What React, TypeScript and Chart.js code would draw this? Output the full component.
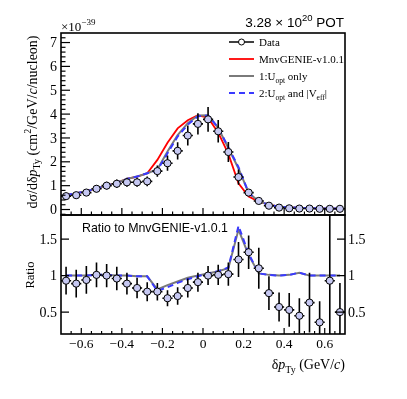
import React, { useEffect, useRef } from 'react';
import { Chart, registerables } from 'chart.js';

Chart.register(...registerables);

// ---------- data ----------
const binCenters = [-0.675, -0.625, -0.575, -0.525, -0.475, -0.425, -0.375, -0.325, -0.275, -0.225, -0.175, -0.125, -0.075, -0.025, 0.025, 0.075, 0.125, 0.175, 0.225, 0.275, 0.325, 0.375, 0.425, 0.475, 0.525, 0.575, 0.625, 0.675];
const binHalfWidth = 0.025;

// cross section (units of 1e-39 cm^2/GeV/c/nucleon)
const dataXS = [0.56, 0.60, 0.71, 0.87, 1.00, 1.08, 1.14, 1.14, 1.18, 1.61, 1.94, 2.46, 3.10, 3.59, 3.78, 3.28, 2.41, 1.36, 0.71, 0.36, 0.16, 0.08, 0.05, 0.04, 0.04, 0.03, 0.03, 0.03];
const dataXSErr = [0.11, 0.12, 0.14, 0.15, 0.16, 0.18, 0.19, 0.19, 0.20, 0.24, 0.32, 0.36, 0.42, 0.45, 0.52, 0.47, 0.42, 0.32, 0.15, 0.08, 0.05, 0.03, 0.03, 0.02, 0.02, 0.02, 0.02, 0.02];
const mnvGenieXS = [0.60, 0.68, 0.77, 0.87, 1.00, 1.12, 1.28, 1.38, 1.52, 2.08, 2.80, 3.40, 3.74, 3.95, 3.85, 3.22, 2.33, 1.10, 0.54, 0.33, 0.20, 0.12, 0.09, 0.07, 0.06, 0.05, 0.04, 0.04];
const uoptXS = [0.60, 0.68, 0.77, 0.87, 1.00, 1.12, 1.28, 1.38, 1.52, 1.68, 2.43, 3.12, 3.62, 3.94, 3.95, 3.42, 2.58, 1.72, 0.70, 0.34, 0.20, 0.12, 0.09, 0.07, 0.06, 0.05, 0.04, 0.04];
const uoptVeffXS = [0.60, 0.68, 0.77, 0.87, 1.00, 1.12, 1.28, 1.38, 1.52, 1.64, 2.36, 3.06, 3.56, 3.91, 3.94, 3.44, 2.60, 1.78, 0.70, 0.34, 0.20, 0.12, 0.09, 0.07, 0.06, 0.05, 0.04, 0.04];

// ratio to MnvGENIE-v1.0.1
const dataRatio = [0.93, 0.89, 0.94, 1.01, 1.00, 0.96, 0.89, 0.83, 0.78, 0.78, 0.69, 0.72, 0.83, 0.91, 1.00, 1.01, 1.02, 1.22, 1.32, 1.10, 0.76, 0.57, 0.53, 0.45, 0.63, 0.36, 0.93, 0.50];
const dataRatioErr = [0.19, 0.19, 0.19, 0.17, 0.16, 0.16, 0.15, 0.14, 0.13, 0.12, 0.11, 0.12, 0.13, 0.13, 0.13, 0.14, 0.16, 0.24, 0.23, 0.28, 0.23, 0.20, 0.23, 0.24, 0.41, 0.29, 1.00, 0.40];
const uoptRatio = [1.00, 1.00, 1.00, 1.01, 1.01, 1.00, 1.00, 0.99, 0.99, 0.81, 0.87, 0.92, 0.97, 1.00, 1.03, 1.06, 1.10, 1.63, 1.28, 1.03, 1.01, 1.00, 1.01, 1.04, 1.00, 1.00, 1.00, 1.00];
const uoptVeffRatio = [1.00, 1.00, 1.00, 1.01, 1.01, 1.00, 1.00, 0.99, 0.99, 0.79, 0.84, 0.90, 0.95, 0.99, 1.03, 1.06, 1.11, 1.68, 1.30, 1.03, 1.01, 1.00, 1.01, 1.04, 1.00, 1.00, 1.00, 1.00];

// ticks
const xTickValues = [-0.6, -0.4, -0.2, 0, 0.2, 0.4, 0.6];
const xTickLabels = ['−0.6', '−0.4', '−0.2', '0', '0.2', '0.4', '0.6'];
const xsTickValues = [0, 1, 2, 3, 4, 5, 6, 7];
const xsTickLabels = ['0', '1', '2', '3', '4', '5', '6', '7'];
const ratioTickValues = [0.5, 1, 1.5];
const ratioTickLabels = ['0.5', '1', '1.5'];

// ---------- style ----------
const W = 407;
const H = 399;
const SERIF = '"Liberation Serif", "DejaVu Serif", serif';
const SANS = '"Liberation Sans", Arial, sans-serif';
const RED = '#ff0000';
const GRAY = '#7a7a7a';
const BLUE = '#3a3aff';
const MARKER = '#c6c8f2';
const FRAME = { left: 61, right: 345 };
const UPPER = { top: 33, bottom: 215 };
const LOWER = { top: 215, bottom: 334 };

type Part = { t: string; size: number; italic?: boolean; dy?: number; family?: string };
const fontOf = (p: Part) => `${p.italic ? 'italic ' : ''}${p.size}px ${p.family ?? SERIF}`;

function drawRich(ctx: CanvasRenderingContext2D, parts: Part[], x: number, y: number, align: 'left' | 'center' | 'right') {
  let w = 0;
  for (const p of parts) {
    ctx.font = fontOf(p);
    w += ctx.measureText(p.t).width;
  }
  let cx = align === 'left' ? x : align === 'center' ? x - w / 2 : x - w;
  ctx.textAlign = 'left';
  ctx.textBaseline = 'alphabetic';
  for (const p of parts) {
    ctx.font = fontOf(p);
    ctx.fillText(p.t, cx, y + (p.dy ?? 0));
    cx += ctx.measureText(p.t).width;
  }
}

function drawErrorBars(chart: any, values: number[], errs: number[]) {
  const { ctx, chartArea: a, scales } = chart;
  const x = scales.x;
  const y = scales.y;
  ctx.save();
  ctx.beginPath();
  ctx.rect(a.left, a.top, a.right - a.left, a.bottom - a.top);
  ctx.clip();
  ctx.strokeStyle = '#000';
  ctx.lineWidth = 1.6;
  binCenters.forEach((c, i) => {
    const px = x.getPixelForValue(c);
    const py = y.getPixelForValue(values[i]);
    const x0 = x.getPixelForValue(c - binHalfWidth);
    const x1 = x.getPixelForValue(c + binHalfWidth);
    const y0 = y.getPixelForValue(values[i] - errs[i]);
    const y1 = y.getPixelForValue(values[i] + errs[i]);
    ctx.beginPath();
    ctx.moveTo(x0, py);
    ctx.lineTo(x1, py);
    ctx.moveTo(px, y0);
    ctx.lineTo(px, y1);
    ctx.stroke();
  });
  ctx.restore();
}

function drawXTicks(chart: any, majorLen: number, minorLen: number) {
  const { ctx, chartArea: a, scales } = chart;
  ctx.strokeStyle = '#000';
  ctx.lineWidth = 1.2;
  for (let i = -13; i <= 13; i++) {
    const v = i * 0.05;
    const px = scales.x.getPixelForValue(v);
    const len = i % 4 === 0 ? majorLen : minorLen;
    ctx.beginPath();
    ctx.moveTo(px, a.bottom);
    ctx.lineTo(px, a.bottom - len);
    ctx.stroke();
  }
}

function makeOptions(area: { top: number; bottom: number }, yMin: number, yMax: number) {
  return {
    responsive: false,
    animation: false as const,
    devicePixelRatio: 1,
    events: [] as any[],
    layout: { padding: { left: FRAME.left, right: W - FRAME.right, top: area.top, bottom: H - area.bottom } },
    scales: {
      x: { type: 'linear' as const, min: -0.7, max: 0.7, display: false },
      y: { type: 'linear' as const, min: yMin, max: yMax, display: false },
    },
    plugins: { legend: { display: false }, tooltip: { enabled: false } },
  };
}

const pts = (ys: number[]) => binCenters.map((x, i) => ({ x, y: ys[i] }));

export default function App() {
  const upperRef = useRef<HTMLCanvasElement>(null);
  const lowerRef = useRef<HTMLCanvasElement>(null);

  useEffect(() => {
    const upperPlugin = {
      id: 'upperDecor',
      beforeDatasetDraw(chart: any, args: any) {
        if (args.index === 0) drawErrorBars(chart, dataXS, dataXSErr);
      },
      afterDraw(chart: any) {
        const { ctx, chartArea: a, scales } = chart;
        ctx.save();
        // ticks
        drawXTicks(chart, 7, 3.5);
        ctx.lineWidth = 1.2;
        for (let i = -1; i <= 37; i++) {
          const v = i * 0.2;
          const py = scales.y.getPixelForValue(v);
          if (py < a.top + 0.5 || py > a.bottom - 0.5) continue;
          const len = i % 5 === 0 ? 9 : 4.5;
          ctx.beginPath();
          ctx.moveTo(a.left, py);
          ctx.lineTo(a.left + len, py);
          ctx.stroke();
        }
        // frame
        ctx.lineWidth = 1.6;
        ctx.strokeRect(a.left, a.top, a.right - a.left, a.bottom - a.top);
        // y labels
        ctx.fillStyle = '#000';
        ctx.font = `14px ${SERIF}`;
        ctx.textAlign = 'right';
        ctx.textBaseline = 'middle';
        xsTickValues.forEach((v, i) => ctx.fillText(xsTickLabels[i], a.left - 4, scales.y.getPixelForValue(v) + 1));
        // exponent
        drawRich(ctx, [
          { t: '×10', size: 13 },
          { t: '−39', size: 9, dy: -6 },
        ], a.left, a.top - 2, 'left');
        // POT
        drawRich(ctx, [
          { t: '3.28 × 10', size: 13.5, family: SANS },
          { t: '20', size: 9.5, dy: -6, family: SANS },
          { t: ' POT', size: 13.5, family: SANS },
        ], 344, 27, 'right');
        // y title
        ctx.save();
        ctx.translate(37, 122);
        ctx.rotate(-Math.PI / 2);
        drawRich(ctx, [
          { t: 'dσ/dδ', size: 14 },
          { t: 'p', size: 14, italic: true },
          { t: 'Ty', size: 10, dy: 3 },
          { t: ' (cm', size: 14 },
          { t: '2', size: 10, dy: -6 },
          { t: '/GeV/', size: 14 },
          { t: 'c', size: 14, italic: true },
          { t: '/nucleon)', size: 14 },
        ], 0, 0, 'center');
        ctx.restore();
        // legend
        const lx0 = 229;
        const lx1 = 254;
        const tx = 259;
        const rows = [42, 59, 76, 93];
        ctx.lineWidth = 1.5;
        ctx.strokeStyle = '#000';
        ctx.beginPath();
        ctx.moveTo(lx0, rows[0]);
        ctx.lineTo(lx1, rows[0]);
        ctx.stroke();
        ctx.beginPath();
        ctx.arc((lx0 + lx1) / 2, rows[0], 3, 0, Math.PI * 2);
        ctx.fillStyle = '#fff';
        ctx.fill();
        ctx.lineWidth = 1;
        ctx.stroke();
        ctx.lineWidth = 1.8;
        ctx.strokeStyle = RED;
        ctx.beginPath();
        ctx.moveTo(lx0, rows[1]);
        ctx.lineTo(lx1, rows[1]);
        ctx.stroke();
        ctx.lineWidth = 2;
        ctx.strokeStyle = GRAY;
        ctx.beginPath();
        ctx.moveTo(lx0, rows[2]);
        ctx.lineTo(lx1, rows[2]);
        ctx.stroke();
        ctx.strokeStyle = BLUE;
        ctx.setLineDash([6, 4]);
        ctx.beginPath();
        ctx.moveTo(lx0, rows[3]);
        ctx.lineTo(lx1, rows[3]);
        ctx.stroke();
        ctx.setLineDash([]);
        ctx.fillStyle = '#000';
        const ls = 11;
        drawRich(ctx, [{ t: 'Data', size: ls }], tx, rows[0] + 4, 'left');
        drawRich(ctx, [{ t: 'MnvGENIE-v1.0.1', size: ls }], tx, rows[1] + 4, 'left');
        drawRich(ctx, [
          { t: '1:U', size: ls },
          { t: 'opt', size: 7.5, dy: 2.5 },
          { t: ' only', size: ls },
        ], tx, rows[2] + 4, 'left');
        drawRich(ctx, [
          { t: '2:U', size: ls },
          { t: 'opt', size: 7.5, dy: 2.5 },
          { t: ' and |V', size: ls },
          { t: 'eff', size: 7.5, dy: 2.5 },
          { t: '|', size: ls },
        ], tx, rows[3] + 4, 'left');
        ctx.restore();
      },
    };

    const lowerPlugin = {
      id: 'lowerDecor',
      beforeDatasetDraw(chart: any, args: any) {
        if (args.index === 0) drawErrorBars(chart, dataRatio, dataRatioErr);
      },
      afterDraw(chart: any) {
        const { ctx, chartArea: a, scales } = chart;
        ctx.save();
        drawXTicks(chart, 6, 3);
        ctx.lineWidth = 1.2;
        ratioTickValues.forEach((v) => {
          const py = scales.y.getPixelForValue(v);
          ctx.beginPath();
          ctx.moveTo(a.left, py);
          ctx.lineTo(a.left + 8, py);
          ctx.moveTo(a.right, py);
          ctx.lineTo(a.right - 8, py);
          ctx.stroke();
        });
        ctx.lineWidth = 1.6;
        ctx.strokeRect(a.left, a.top, a.right - a.left, a.bottom - a.top);
        ctx.fillStyle = '#000';
        ctx.font = `14px ${SERIF}`;
        ctx.textBaseline = 'middle';
        ratioTickValues.forEach((v, i) => {
          const py = scales.y.getPixelForValue(v) + 1;
          ctx.textAlign = 'right';
          ctx.fillText(ratioTickLabels[i], a.left - 4, py);
          ctx.textAlign = 'left';
          ctx.fillText(ratioTickLabels[i], a.right + 3, py);
        });
        // x labels
        ctx.textAlign = 'center';
        ctx.textBaseline = 'alphabetic';
        ctx.font = `13.5px ${SERIF}`;
        xTickValues.forEach((v, i) => ctx.fillText(xTickLabels[i], scales.x.getPixelForValue(v), 348));
        // x title
        drawRich(ctx, [
          { t: 'δ', size: 14 },
          { t: 'p', size: 14, italic: true },
          { t: 'Ty', size: 10, dy: 4 },
          { t: ' (GeV/', size: 14 },
          { t: 'c', size: 14, italic: true },
          { t: ')', size: 14 },
        ], a.right, 369, 'right');
        // Ratio text
        drawRich(ctx, [{ t: 'Ratio to MnvGENIE-v1.0.1', size: 12.4, family: SANS }], 82, 232, 'left');
        // y title
        ctx.save();
        ctx.translate(34, 275);
        ctx.rotate(-Math.PI / 2);
        drawRich(ctx, [{ t: 'Ratio', size: 12.5 }], 0, 0, 'center');
        ctx.restore();
        ctx.restore();
      },
    };

    const upper = new Chart(upperRef.current as HTMLCanvasElement, {
      type: 'line',
      data: {
        datasets: [
          { label: 'Data', data: pts(dataXS), showLine: false, pointRadius: 3.6, pointBackgroundColor: MARKER, pointBorderColor: '#000', pointBorderWidth: 1 },
          { label: '2:Uopt and |Veff|', data: pts(uoptVeffXS), borderColor: BLUE, borderWidth: 2, borderDash: [6, 4], pointRadius: 0, tension: 0 },
          { label: '1:Uopt only', data: pts(uoptXS), borderColor: GRAY, borderWidth: 2, pointRadius: 0, tension: 0 },
          { label: 'MnvGENIE-v1.0.1', data: pts(mnvGenieXS), borderColor: RED, borderWidth: 1.8, pointRadius: 0, tension: 0 },
        ],
      },
      options: makeOptions(UPPER, -0.23, 7.4) as any,
      plugins: [upperPlugin],
    });

    const lower = new Chart(lowerRef.current as HTMLCanvasElement, {
      type: 'line',
      data: {
        datasets: [
          { label: 'Data', data: pts(dataRatio), showLine: false, pointRadius: 3.6, pointBackgroundColor: MARKER, pointBorderColor: '#000', pointBorderWidth: 1 },
          { label: '2:Uopt and |Veff|', data: pts(uoptVeffRatio), borderColor: BLUE, borderWidth: 2, borderDash: [6, 4], pointRadius: 0, tension: 0 },
          { label: '1:Uopt only', data: pts(uoptRatio), borderColor: GRAY, borderWidth: 2, pointRadius: 0, tension: 0 },
        ],
      },
      options: makeOptions(LOWER, 0.2, 1.83) as any,
      plugins: [lowerPlugin],
    });

    return () => {
      upper.destroy();
      lower.destroy();
    };
  }, []);

  return (
    <div style={{ position: 'fixed', left: 0, top: 0, width: W, height: H, background: '#fff' }}>
      <canvas ref={upperRef} width={W} height={H} style={{ position: 'absolute', left: 0, top: 0 }} />
      <canvas ref={lowerRef} width={W} height={H} style={{ position: 'absolute', left: 0, top: 0 }} />
    </div>
  );
}
